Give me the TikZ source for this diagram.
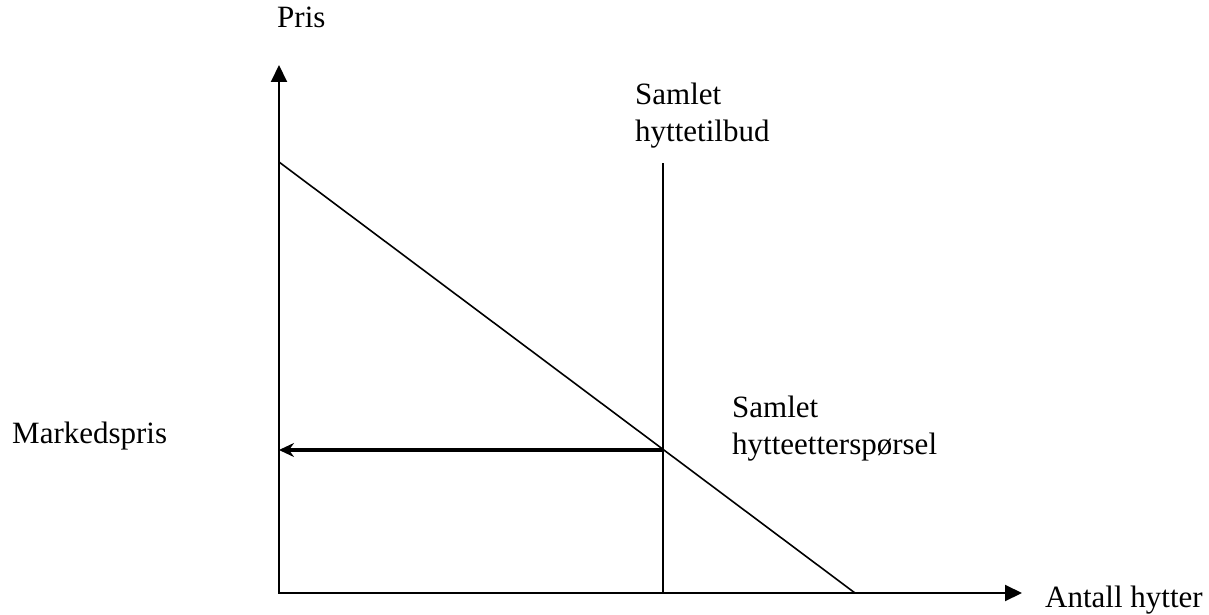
\documentclass[tikz,border=0pt]{standalone}
\usepackage{fontspec}
\setmainfont{Liberation Serif}
\usetikzlibrary{arrows.meta, positioning}

\begin{document}
\begin{tikzpicture}[x=1pt, y=-1pt,
  lbl/.style={inner sep=0pt, anchor=base west, align=left, font=\fontsize{31}{37}\selectfont},
  akse/.style={line width=2pt, {Triangle[length=17pt,width=16pt]}-{Triangle[length=17pt,width=16pt]}},
  kurve/.style={line width=1.6pt}]
\useasboundingbox (0,0) rectangle (1209,615);
%
\coordinate (o) at (279,593);
\coordinate (ytop) at (279,65);
\coordinate (xend) at (1022,593);
\coordinate (d1) at (279,162);
\coordinate (d2) at (855,593);
\coordinate (s1) at (663,163);
\coordinate (s2) at (663,593);
\coordinate (eq) at (663,450);
\coordinate (peq) at (279,450);
%
\node[lbl] (pris) at (277,28) {Pris};
\node[lbl] (tilbud) at (635,142) {Samlet\\hyttetilbud};
\node[lbl] (ettersp) at (732,454) {Samlet\\hytteetterspørsel};
\node[lbl] (mpris) at (12,443) {Markedspris};
\node[lbl] (antall) at (1045,607) {Antall hytter};
%
\draw[akse] (ytop) -- (o) -- (xend);
\draw[kurve] (d1) -- (d2);
\draw[kurve] (s1) -- (s2);
\draw[line width=4pt, -{Stealth[length=15pt,width=14pt,inset=5pt]}] (eq) -- (peq);
%
\end{tikzpicture}
\end{document}
